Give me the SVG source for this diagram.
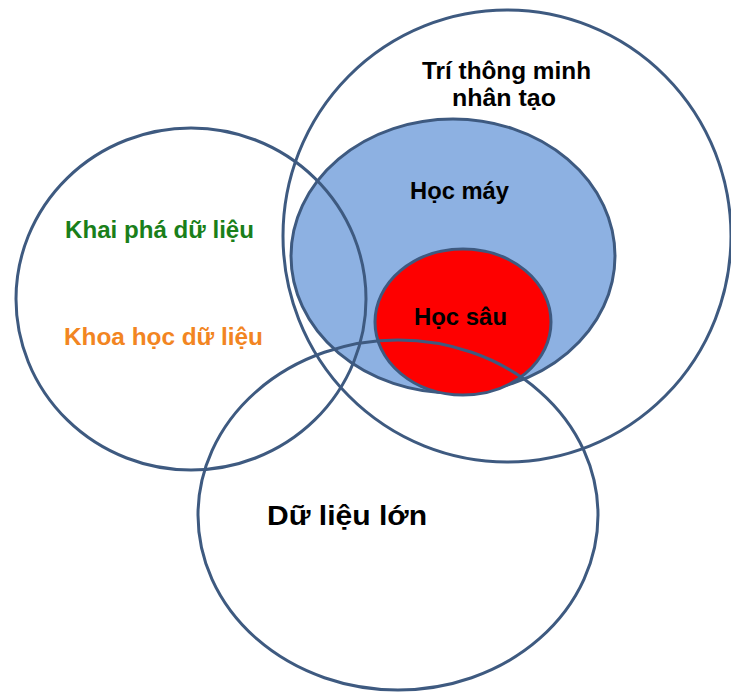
<svg xmlns="http://www.w3.org/2000/svg" width="731" height="693" viewBox="0 0 731 693">
<style>
.ring{fill:none;stroke:#3e5a80;stroke-width:3}
.lbl{font-family:"Liberation Sans",Arial,sans-serif;font-weight:bold;font-size:23px;fill:#000}
</style>
<rect x="0" y="0" width="731" height="693" fill="#ffffff"/>
<g id="hoc-may">
<ellipse cx="453" cy="256" rx="162" ry="137" fill="#8db1e2" stroke="#3e5a80" stroke-width="3"/>
</g>
<g id="hoc-sau">
<ellipse cx="463" cy="322" rx="88" ry="73" fill="#fe0000" stroke="#3e5a80" stroke-width="3"/>
</g>
<g id="tri-tue-nhan-tao">
<ellipse class="ring" cx="507" cy="236" rx="224" ry="226"/>
</g>
<g id="khai-pha-du-lieu">
<ellipse class="ring" cx="191" cy="299" rx="175" ry="171"/>
</g>
<g id="du-lieu-lon">
<ellipse class="ring" cx="398" cy="515" rx="200" ry="175"/>
</g>
<g id="labels">
<text class="lbl" x="422" y="79" textLength="169" lengthAdjust="spacingAndGlyphs">Trí thông minh</text>
<text class="lbl" x="452" y="106" textLength="104" lengthAdjust="spacingAndGlyphs">nhân tạo</text>
<text class="lbl" x="410" y="199" textLength="99" lengthAdjust="spacingAndGlyphs">Học máy</text>
<text class="lbl" x="414" y="325" textLength="93" lengthAdjust="spacingAndGlyphs">Học sâu</text>
<text class="lbl" x="65" y="238" textLength="189" lengthAdjust="spacingAndGlyphs" style="fill:#1a7f1a">Khai phá dữ liệu</text>
<text class="lbl" x="64" y="345" textLength="199" lengthAdjust="spacingAndGlyphs" style="fill:#f28522">Khoa học dữ liệu</text>
<text class="lbl" x="267" y="525" textLength="160" lengthAdjust="spacingAndGlyphs" style="font-size:27px">Dữ liệu lớn</text>
</g>
</svg>
